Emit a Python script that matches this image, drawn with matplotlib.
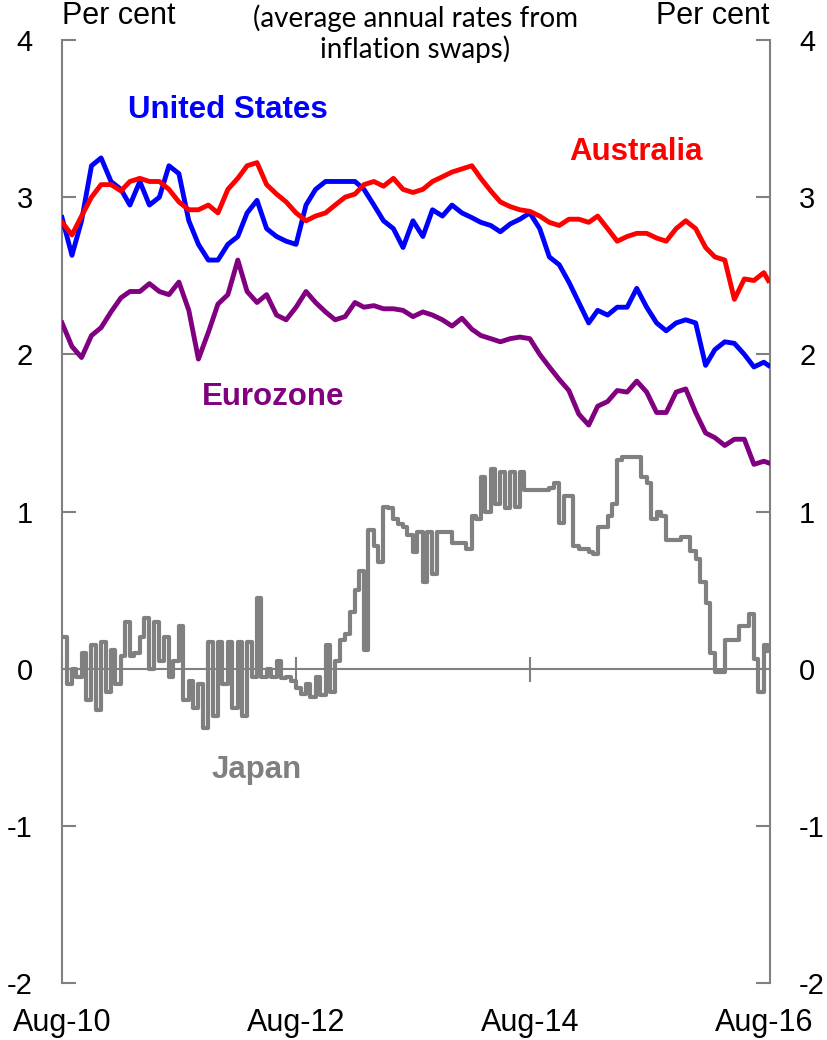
import numpy as np
import pandas as pd
import matplotlib
matplotlib.use("Agg")
import matplotlib.pyplot as plt

# Inflation expectations (average annual rates from inflation swaps), per cent

# monthly readings, Aug-10 .. Aug-16, plus mid Aug-16
months = pd.date_range("2010-08-01", "2016-08-01", freq="MS").append(pd.DatetimeIndex(["2016-08-15"]))

us = [2.87, 2.63, 2.85, 3.20, 3.25, 3.10, 3.05, 2.95, 3.10, 2.95,
      3.00, 3.20, 3.15, 2.85, 2.70, 2.60, 2.60, 2.70, 2.75, 2.90,
      2.98, 2.80, 2.75, 2.72, 2.70, 2.95, 3.05, 3.10, 3.10, 3.10,
      3.10, 3.05, 2.95, 2.85, 2.80, 2.68, 2.85, 2.75, 2.92, 2.88,
      2.95, 2.90, 2.87, 2.84, 2.82, 2.78, 2.83, 2.86, 2.90, 2.80,
      2.62, 2.57, 2.46, 2.33, 2.20, 2.28, 2.25, 2.30, 2.30, 2.42,
      2.30, 2.20, 2.15, 2.20, 2.22, 2.20, 1.93, 2.03, 2.08, 2.07,
      2.00, 1.92, 1.95, 1.93]

australia = [2.84, 2.76, 2.88, 3.00, 3.08, 3.08, 3.04, 3.10, 3.12, 3.10,
             3.10, 3.05, 2.97, 2.92, 2.92, 2.95, 2.90, 3.05, 3.12, 3.20,
             3.22, 3.08, 3.02, 2.97, 2.90, 2.85, 2.88, 2.90, 2.95, 3.00,
             3.02, 3.08, 3.10, 3.07, 3.12, 3.05, 3.03, 3.05, 3.10, 3.13,
             3.16, 3.18, 3.20, 3.12, 3.04, 2.97, 2.94, 2.92, 2.91, 2.88,
             2.84, 2.82, 2.86, 2.86, 2.84, 2.88, 2.80, 2.72, 2.75, 2.77,
             2.77, 2.74, 2.72, 2.80, 2.85, 2.80, 2.68, 2.62, 2.60, 2.35,
             2.48, 2.47, 2.52, 2.47]

eurozone = [2.20, 2.05, 1.98, 2.12, 2.17, 2.27, 2.36, 2.40, 2.40, 2.45,
            2.40, 2.38, 2.46, 2.28, 1.97, 2.14, 2.32, 2.38, 2.60, 2.40,
            2.33, 2.38, 2.25, 2.22, 2.30, 2.40, 2.33, 2.27, 2.22, 2.24,
            2.33, 2.30, 2.31, 2.29, 2.29, 2.28, 2.24, 2.27, 2.25, 2.22,
            2.18, 2.23, 2.16, 2.12, 2.10, 2.08, 2.10, 2.11, 2.10, 2.00,
            1.92, 1.84, 1.77, 1.62, 1.55, 1.67, 1.70, 1.77, 1.76, 1.83,
            1.76, 1.63, 1.63, 1.76, 1.78, 1.63, 1.50, 1.47, 1.42, 1.46,
            1.46, 1.30, 1.32, 1.31]

# Japan, twice-monthly readings (1st and 15th)
half_months = pd.date_range("2010-08-01", "2016-08-15", freq="SMS")
japan = [0.20, -0.10, 0.00, -0.05, 0.10, -0.20, 0.15, -0.26, 0.17, -0.15,
         0.12, -0.10, 0.08, 0.30, 0.08, 0.10, 0.20, 0.32, 0.00, 0.30,
         0.05, 0.20, -0.05, 0.05, 0.27, -0.20, -0.08, -0.25, -0.10, -0.38,
         0.17, -0.30, 0.17, -0.10, 0.17, -0.25, 0.17, -0.30, 0.17, -0.05,
         0.45, -0.05, 0.00, -0.05, 0.05, -0.06, -0.05, -0.08, -0.12, -0.16,
         -0.10, -0.18, -0.05, -0.17, 0.15, -0.15, 0.05, 0.18, 0.22, 0.36,
         0.50, 0.62, 0.12, 0.88, 0.78, 0.68, 1.03, 1.02, 0.95, 0.92,
         0.90, 0.85, 0.74, 0.87, 0.55, 0.87, 0.60, 0.87, 0.87, 0.87,
         0.80, 0.80, 0.80, 0.76, 0.97, 0.95, 1.22, 1.00, 1.27, 1.05,
         1.25, 1.02, 1.25, 1.03, 1.25, 1.14, 1.14, 1.14, 1.14, 1.14,
         1.15, 1.18, 0.93, 1.10, 1.10, 0.78, 0.76, 0.76, 0.74, 0.73,
         0.90, 0.90, 0.97, 1.05, 1.33, 1.35, 1.35, 1.35, 1.35, 1.22,
         1.18, 0.95, 1.00, 0.97, 0.82, 0.82, 0.82, 0.84, 0.84, 0.75,
         0.70, 0.55, 0.42, 0.10, -0.02, -0.02, 0.18, 0.18, 0.18, 0.27,
         0.27, 0.35, 0.06, -0.15, 0.15, 0.11]

tick_dates = pd.to_datetime(["2010-08-01", "2012-08-01", "2014-08-01", "2016-08-01"])
tick_labels = ["Aug-10", "Aug-12", "Aug-14", "Aug-16"]

plt.rcParams["font.family"] = ["Liberation Sans", "DejaVu Sans"]
plt.rcParams["axes.unicode_minus"] = False

fig = plt.figure(figsize=(8.27, 10.4), dpi=100)
ax = fig.add_axes([0.075, 0.0548, 0.856, 0.9067])

grey = "#808080"
ax.plot(half_months, japan, color=grey, lw=3, drawstyle="steps-post", zorder=3)
ax.plot(months, eurozone, color="#800080", lw=3.5, zorder=4)
ax.plot(months, australia, color="#ff0000", lw=3.5, zorder=5)
ax.plot(months, us, color="#0000ff", lw=3.5, zorder=4)

ax.set_ylim(-2, 4)
ax.set_xlim(pd.Timestamp("2010-08-01"), pd.Timestamp("2016-08-20"))
ax.set_yticks(range(-2, 5))

# frame: side spines only, the zero line carries the x ticks
ax.spines["top"].set_visible(False)
for s in ["left", "right", "bottom"]:
    ax.spines[s].set_color(grey)
    ax.spines[s].set_linewidth(1.5)
ax.spines["bottom"].set_position(("data", 0))

ax.set_xticks(tick_dates)
ax.tick_params(axis="x", direction="inout", length=18, width=1.5, color=grey, labelbottom=False)
ax.tick_params(axis="y", direction="in", length=10, width=1.5, color=grey,
               left=True, right=True, labelleft=True, labelright=True,
               labelsize=21, pad=21)

sec = ax.secondary_xaxis(0)
sec.set_xticks(tick_dates)
sec.set_xticklabels(tick_labels)
sec.tick_params(length=0, labelsize=22, pad=18)
sec.spines["bottom"].set_visible(False)

# unit labels and title
ax.text(0.0, 1.0 + 24 / 943, "Per cent", transform=ax.transAxes, fontsize=22,
        ha="left", va="center")
ax.text(1.0, 1.0 + 24 / 943, "Per cent", transform=ax.transAxes, fontsize=22,
        ha="right", va="center")
fig.text(0.502, 1 - 34 / 1040, "(average annual rates from\ninflation swaps)",
         ha="center", va="center", fontsize=20, family=["Lato", "DejaVu Sans"],
         linespacing=1.15)

# series labels
lab = dict(transform=ax.transAxes, fontsize=22.5, fontweight="bold",
           ha="center", va="center")
ax.text(0.234, 0.926, "United States", color="#0000ff", **lab)
ax.text(0.811, 0.881, "Australia", color="#ff0000", **lab)
ax.text(0.298, 0.621, "Eurozone", color="#800080", **lab)
ax.text(0.275, 0.226, "Japan", color=grey, **lab)

fig.savefig("out.png", dpi=100)
